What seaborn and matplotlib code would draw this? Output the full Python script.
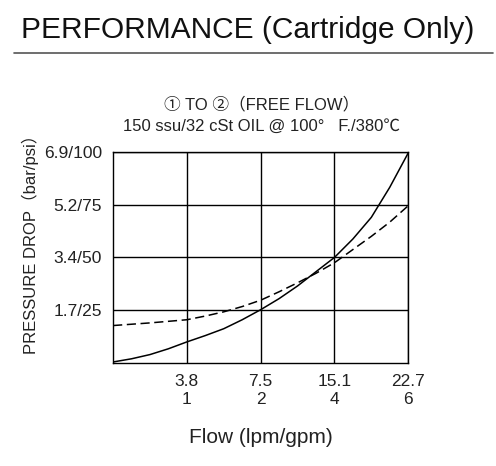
import matplotlib
matplotlib.use("Agg")
import matplotlib.pyplot as plt
import seaborn as sns
import pandas as pd

# axis scale is not linear: grid positions 0..4 carry the labels below
x_ticks = [1, 2, 3, 4]
x_labels = ["3.8\n1", "7.5\n2", "15.1\n4", "22.7\n6"]
y_ticks = [1, 2, 3, 4]
y_labels = ["1.7/25", "3.4/50", "5.2/75", "6.9/100"]

# curves (grid units)
solid_x = [0, 0.25, 0.5, 0.75, 1, 1.25, 1.5, 1.75, 2, 2.25, 2.5, 2.75,
           3, 3.25, 3.5, 3.75, 4]
solid_y = [0.02, 0.08, 0.16, 0.27, 0.40, 0.52, 0.65, 0.82, 1.01, 1.22,
           1.46, 1.73, 2.0, 2.35, 2.76, 3.33, 3.98]
dashed_x = [0, 0.5, 1, 1.25, 1.5, 1.75, 2, 2.25, 2.5, 2.75, 3, 3.25,
            3.5, 3.75, 4]
dashed_y = [0.71, 0.76, 0.82, 0.89, 0.97, 1.07, 1.19, 1.35, 1.52, 1.70,
            1.90, 2.15, 2.40, 2.67, 2.98]

FONT = ["Liberation Sans", "Noto Sans CJK SC", "DejaVu Sans"]


def main():
    sns.set_style("white")
    plt.rcParams["font.family"] = FONT

    solid = pd.DataFrame({"x": solid_x, "y": solid_y})
    dashed = pd.DataFrame({"x": dashed_x, "y": dashed_y})

    fig = plt.figure(figsize=(4.96, 4.66), dpi=100)
    ax = fig.add_axes([0.228, 0.221, 0.595, 0.453])

    sns.lineplot(data=solid, x="x", y="y", ax=ax, color="black", lw=1.1)
    sns.lineplot(data=dashed, x="x", y="y", ax=ax, color="black", lw=1.1,
                 linestyle=(0, (6, 3)))

    ax.set_xlim(0, 4)
    ax.set_ylim(0, 4)
    ax.set_xticks(x_ticks)
    ax.set_xticklabels(x_labels, fontsize=12.5, color="#222222",
                       linespacing=1.2)
    ax.set_yticks(y_ticks)
    ax.set_yticklabels(y_labels, fontsize=12.5, color="#222222")
    ax.tick_params(length=0, pad=8)
    ax.grid(True, color="black", lw=1.0)
    for s in ax.spines.values():
        s.set_color("black")
        s.set_linewidth(1.0)

    ax.set_xlabel("Flow (lpm/gpm)", fontsize=15, color="#222222")
    ax.xaxis.set_label_coords(0.5, -0.31)
    ax.set_ylabel("PRESSURE DROP（bar/psi）", fontsize=12, color="#222222")
    ax.yaxis.set_label_coords(-0.25, 0.58)

    fig.text(0.5, 0.935, "PERFORMANCE (Cartridge Only)", ha="center",
             va="center", fontsize=21.5, color="#111111")
    fig.add_artist(plt.Line2D([0.028, 0.994], [0.886, 0.886],
                              color="#555555", lw=1.2))
    fig.text(0.527, 0.776, "① TO ②（FREE FLOW）", ha="center", va="center",
             fontsize=12, color="#222222")
    fig.text(0.527, 0.729, "150 ssu/32 cSt OIL @ 100°   F./380℃", ha="center",
             va="center", fontsize=12, color="#222222")

    ax.set_zorder(1)
    fig.savefig("out.png", dpi=100, facecolor="white")
    plt.close(fig)


if __name__ == "__main__":
    main()
